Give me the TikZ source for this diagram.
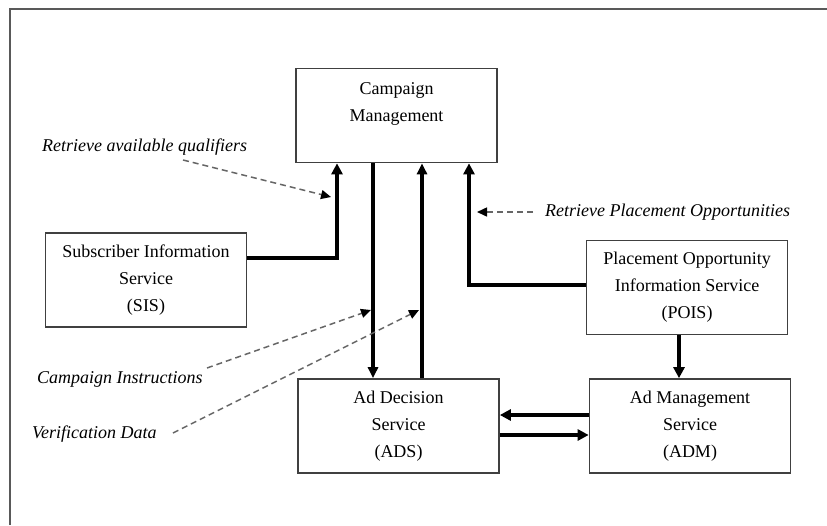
\documentclass[tikz,border=0pt]{standalone}
\usepackage{fontspec}
\setmainfont{Liberation Serif}
\usetikzlibrary{arrows.meta}

\tikzset{
  svcbox/.style={draw=black!75, line width=1.7pt, minimum width=201pt, minimum height=94pt,
    align=center, inner sep=0pt, font=\fontsize{18}{27}\selectfont},
  lbl/.style={font=\fontsize{18}{21}\selectfont\itshape, inner sep=0pt, anchor=west},
  heavy/.style={line width=4.5pt, -{Triangle[length=11pt,width=11pt]}},
  medium/.style={line width=3.2pt, -{Triangle[length=11pt,width=10pt]}},
  note/.style={draw=black!60, line width=1.5pt, dash pattern=on 6pt off 4pt,
    -{Triangle[length=10pt,width=9pt,color=black]}},
}

\begin{document}
\begin{tikzpicture}[x=1pt,y=-1pt]
\useasboundingbox (0,0) rectangle (827,525);

% outer frame (left and top edges)
\coordinate (fbl) at (9.5,525);
\coordinate (ftl) at (9.5,8.5);
\coordinate (ftr) at (827,8.5);
\draw[black!65, line width=2pt] (fbl) -- (ftl) -- (ftr);

% services
\node[svcbox] (cm)   at (396.5,115.5) {Campaign\\Management\\\mbox{}};
\node[svcbox] (sis)  at (146,280)     {Subscriber Information\\Service\\(SIS)};
\node[svcbox] (pois) at (687,287.5)   {Placement Opportunity\\Information Service\\(POIS)};
\node[svcbox] (ads)  at (398.5,426)   {Ad Decision\\Service\\(ADS)};
\node[svcbox] (adm)  at (690,426)     {Ad Management\\Service\\(ADM)};

% data flows
\draw[heavy] ([yshift=22pt]sis.east) -| ([xshift=-59.5pt]cm.south);
\draw[medium] ([xshift=-23.5pt]cm.south) -- ([xshift=-23.5pt]cm.south |- ads.north);
\draw[medium] ([xshift=25.5pt]cm.south |- ads.north) -- ([xshift=25.5pt]cm.south);
\draw[heavy] ([yshift=2.5pt]pois.west) -| ([xshift=72.5pt]cm.south);
\draw[heavy] ([xshift=-8pt]pois.south) -- ([xshift=-8pt]pois.south |- adm.north);
\draw[line width=4pt, -{Triangle[length=11pt,width=11pt]}] ([yshift=11pt]adm.west) -- ([yshift=11pt]adm.west -| ads.east);
\draw[line width=4pt, -{Triangle[length=11pt,width=11pt]}] ([yshift=-9pt]ads.east) -- ([yshift=-9pt]ads.east -| adm.west);

% annotations
\node[lbl] (qual) at (42,147)  {Retrieve available qualifiers};
\node[lbl] (rpo)  at (545,212) {Retrieve Placement Opportunities};
\node[lbl] (ci)   at (37,379)  {Campaign Instructions};
\node[lbl] (vd)   at (32,434)  {Verification Data};

\coordinate (qualend) at (331,197);
\coordinate (rpoend)  at (477,212);
\coordinate (ciend)   at (371,310);
\coordinate (vdend)   at (419,310);

\draw[note] (183,160) -- (qualend);
\draw[note] ([xshift=-12pt]rpo.west) -- (rpoend);
\draw[note] (207,368) -- (ciend);
\draw[note] (173,433) -- (vdend);
\end{tikzpicture}
\end{document}
